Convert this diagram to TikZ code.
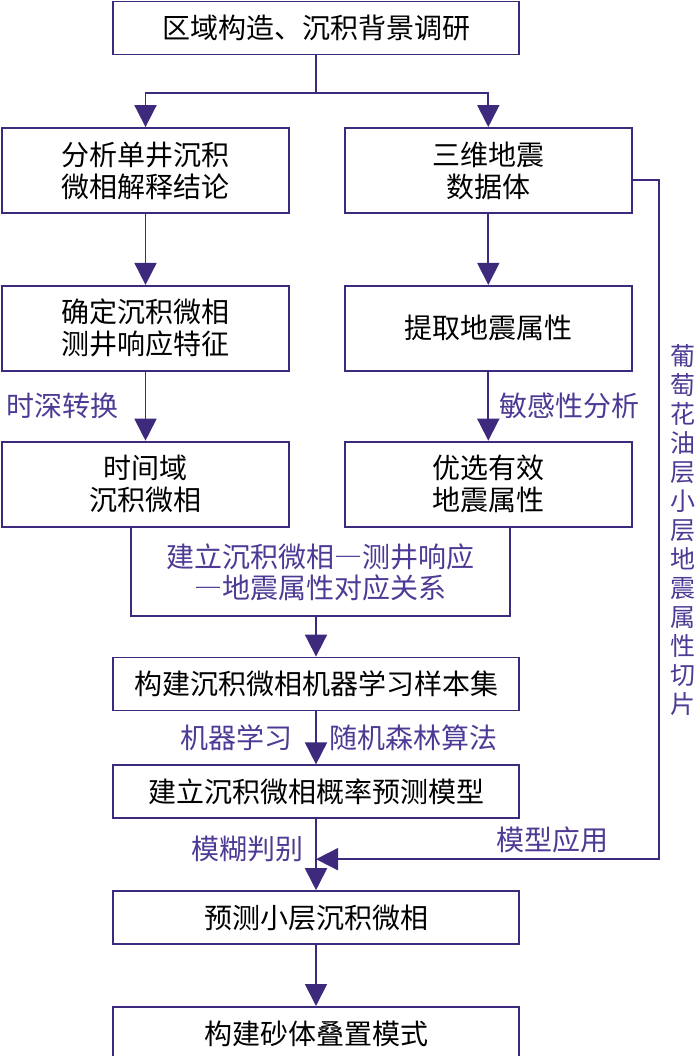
\documentclass[tikz,border=0pt]{standalone}
\usepackage{fontspec}
\usepackage{tikz}
\usetikzlibrary{positioning,arrows.meta}
\newfontfamily\cjk[Script=CJK,Language=Chinese Simplified]{Noto Sans CJK SC}
\definecolor{flowline}{RGB}{62,42,125}
\definecolor{notetext}{RGB}{78,58,148}

\begin{document}
\begin{tikzpicture}[x=1pt, y=1pt,
    stepbox/.style={rectangle, draw=flowline, line width=1.8pt, fill=white, inner sep=0pt, align=center, font=\cjk\fontsize{28}{32}\selectfont},
    widebox/.style={stepbox, minimum width=406pt, minimum height=53pt},
    colbox/.style={stepbox, minimum width=287pt, minimum height=85pt},
    note/.style={inner sep=0pt, align=center, text=notetext, font=\cjk\fontsize{28}{31}\selectfont},
    link/.style={draw=flowline, line width=1.8pt},
    flow/.style={link, -{Triangle[length=22pt, width=22pt]}}
]
\useasboundingbox (0,0) rectangle (700,-1056);
\node[widebox](survey) at (316,-28){区域构造、沉积背景调研};
\node[colbox](wellfacies) at (145.5,-170.5){分析单井沉积\\微相解释结论};
\node[colbox](seisvol)[right=54pt of wellfacies]{三维地震\\数据体};
\node[colbox](logresp)[below=71pt of wellfacies]{确定沉积微相\\测井响应特征};
\node[colbox](attrib)[below=71pt of seisvol]{提取地震属性};
\node[colbox](timefacies)[below=69pt of logresp]{时间域\\沉积微相};
\node[colbox](optattr)[below=69pt of attrib]{优选有效\\地震属性};
\node[note](relation) at (320,-572){建立沉积微相―测井响应\\―地震属性对应关系};
\node[widebox](sampleset) at (316,-684){构建沉积微相机器学习样本集};
\node[widebox](probmodel)[below=53pt of sampleset]{建立沉积微相概率预测模型};
\node[widebox](predict)[below=71pt of probmodel]{预测小层沉积微相};
\node[widebox](sandbody)[below=61pt of predict]{构建砂体叠置模式};
\node[note, font=\cjk\fontsize{25}{29}\selectfont](slicenote) at (683,-530){葡\\萄\\花\\油\\层\\小\\层\\地\\震\\属\\性\\切\\片};
\coordinate[below=38pt of survey.south](fork);
\coordinate[above=41pt of sampleset.north](gather);
\path (probmodel.south) -- coordinate[pos=0.563](join) (predict.north);
\draw[link] (survey.south) -- (fork);
\draw[flow] (fork) -| (wellfacies.north);
\draw[flow] (fork) -| (seisvol.north);
\draw[flow] (wellfacies) -- (logresp);
\draw[flow] (seisvol) -- (attrib);
\draw[flow] (logresp) -- node[note, left=26pt]{时深转换} (timefacies);
\draw[flow] (attrib) -- node[note, right=10pt]{敏感性分析} (optattr);
\draw[link] ([xshift=-14.5pt]timefacies.south) |- (gather) -| ([xshift=21.5pt]optattr.south);
\draw[flow] (gather) -- (sampleset);
\draw[flow] (sampleset) -- node[note, left=23pt]{机器学习} node[note, right=13pt]{随机森林算法} (probmodel);
\draw[flow] (probmodel) -- node[note, pos=0.42, left=12pt]{模糊判别} (predict);
\draw[flow] ([yshift=-9.5pt]seisvol.east) -- ++(26pt,0) |- node[note, pos=0.655, above=5pt]{模型应用} (join);
\draw[flow] (predict) -- (sandbody);
\end{tikzpicture}
\end{document}
